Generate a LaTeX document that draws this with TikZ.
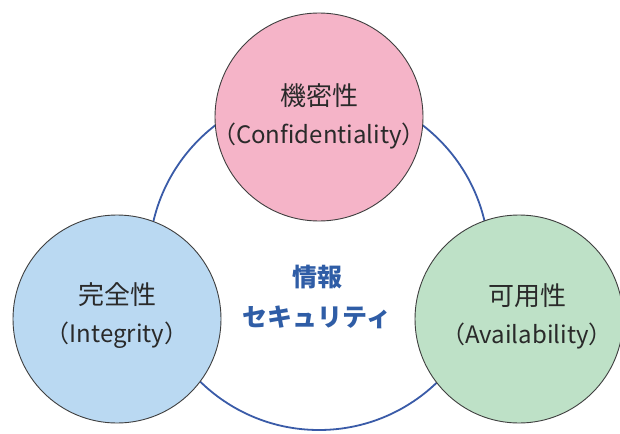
\documentclass[tikz,border=0pt]{standalone}
\usepackage{fontspec}
\setmainfont{Noto Sans CJK JP}
\definecolor{ringblue}{HTML}{3A5BA8}
\definecolor{pinkfill}{HTML}{F5B4C8}
\definecolor{bluefill}{HTML}{BAD9F2}
\definecolor{greenfill}{HTML}{BEE1C7}
\definecolor{txtdark}{HTML}{2A2A2A}
\definecolor{centerblue}{HTML}{2F5DA6}
\newcommand{\kanjisize}{\fontsize{26}{38}\selectfont}
\newcommand{\latinsize}{\fontsize{24}{38}\selectfont}
\tikzset{
  element/.style={circle, draw=txtdark!90, line width=0.9pt, minimum size=208pt, inner sep=0pt},
  elemtext/.style={align=center, text=txtdark, inner sep=0pt, font=\fontsize{24}{38}\selectfont},
  ringstyle/.style={circle, draw=ringblue, line width=1.8pt, minimum size=340pt, inner sep=0pt},
  centertext/.style={align=center, text=centerblue, font=\fontsize{25}{40}\selectfont\bfseries}
}
\begin{document}
\begin{tikzpicture}[x=1pt,y=-1pt]
\useasboundingbox (0,0) rectangle (620,433);
\fill[white] (0,0) rectangle (620,433);
\node[ringstyle] (ring) at (319,260) {};
\node[element, fill=pinkfill] (conf) at (319,117) {};
\node[element, fill=bluefill] (integ) at (117,319) {};
\node[element, fill=greenfill] (avail) at (519,319) {};
\node[elemtext] (conftext) at ([yshift=1pt]conf.center) {{\kanjisize 機密性}\\{\latinsize （Confidentiality）}};
\node[elemtext] (integtext) at ([yshift=3pt]integ.center) {{\kanjisize 完全性}\\{\latinsize （Integrity）}};
\node[elemtext] (availtext) at ([xshift=8pt,yshift=3pt]avail.center) {{\kanjisize 可用性}\\{\latinsize （Availability）}};
\node[centertext] (center) at (317,297) {情報\\セキュリティ};
\end{tikzpicture}
\end{document}
